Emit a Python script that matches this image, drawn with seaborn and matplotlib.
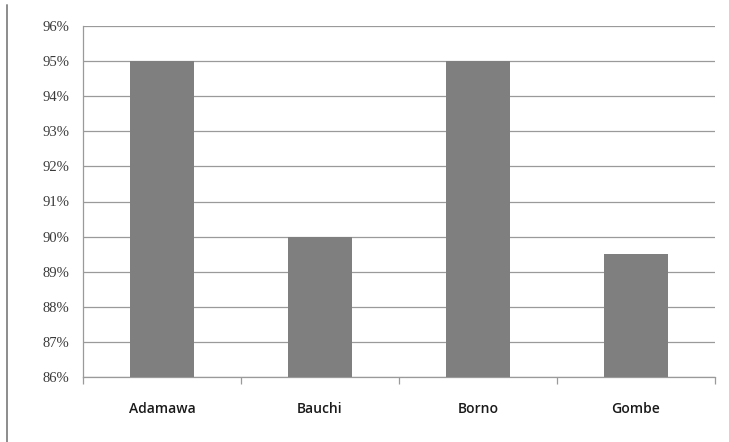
import matplotlib
matplotlib.use("Agg")
import matplotlib.pyplot as plt
import seaborn as sns
import pandas as pd
from matplotlib.lines import Line2D
from matplotlib.ticker import FuncFormatter, FixedLocator

states = ["Adamawa", "Bauchi", "Borno", "Gombe"]
coverage = [95.0, 90.0, 95.0, 89.5]
y_ticks = [86, 87, 88, 89, 90, 91, 92, 93, 94, 95, 96]

df = pd.DataFrame({"state": states, "coverage": coverage})

sns.set_theme(style="white")
fig = plt.figure(figsize=(7.29, 4.42), dpi=100)
fig.patch.set_facecolor("white")

# left edge of the chart-area frame
fig.lines.append(Line2D([7 / 729, 7 / 729], [0, 1 - 5 / 442],
                        transform=fig.transFigure, color="#8c8c8c",
                        linewidth=1.4))

ax = fig.add_axes([83 / 729, 1 - 377 / 442, (715 - 83) / 729, (377 - 26) / 442])
ax.set_facecolor("white")

sns.barplot(data=df, x="state", y="coverage", order=states, color="#7f7f7f",
            saturation=1, width=0.4, ax=ax, zorder=3, linewidth=0,
            edgecolor="#7f7f7f")

ax.set_ylim(86, 96)
ax.set_xlim(-0.5, len(states) - 0.5)
ax.set_yticks(y_ticks)
ax.yaxis.set_major_formatter(FuncFormatter(lambda v, p: f"{v:.0f}%"))
ax.grid(axis="y", color="#9a9a9a", linewidth=0.9, zorder=0)
ax.set_axisbelow(True)
ax.set_xlabel("")
ax.set_ylabel("")

for side in ["top", "right"]:
    ax.spines[side].set_visible(False)
for side in ["left", "bottom"]:
    ax.spines[side].set_color("#9a9a9a")
    ax.spines[side].set_linewidth(0.9)

ax.tick_params(axis="y", which="major", direction="out", length=5, width=0.9,
               color="#9a9a9a", pad=5, labelsize=10.5, labelcolor="#3a3a3a")
for lbl in ax.get_yticklabels():
    lbl.set_fontfamily("Liberation Serif")

ax.xaxis.set_minor_locator(FixedLocator([i - 0.5 for i in range(len(states) + 1)]))
ax.tick_params(axis="x", which="minor", direction="out", length=5, width=0.9,
               color="#9a9a9a", bottom=True)
ax.tick_params(axis="x", which="major", length=0, pad=18, labelsize=10,
               labelcolor="#1a1a1a")
for lbl in ax.get_xticklabels():
    lbl.set_fontfamily("Open Sans")
    lbl.set_fontweight("semibold")

fig.savefig("out.png", dpi=100, facecolor="white")
